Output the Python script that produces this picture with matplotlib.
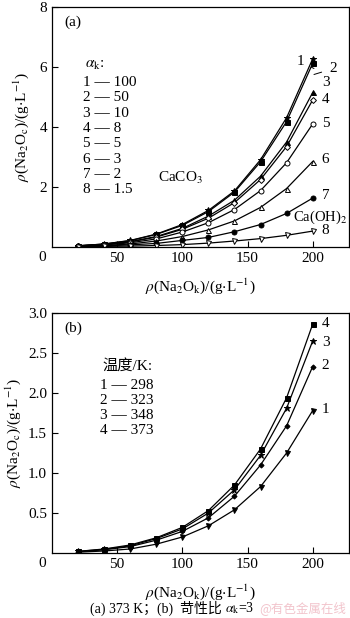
import matplotlib
matplotlib.use("Agg")
import matplotlib.pyplot as plt

plt.rcParams['font.family'] = ['Liberation Serif', 'Noto Sans CJK SC']
plt.rcParams['mathtext.fontset'] = 'stix'

x = [20, 40, 60, 80, 100, 120, 140, 160, 180, 200]

# Panel (a): 373 K, various caustic ratios
a_labels = ['1', '2', '3', '4', '5', '6', '7', '8']
a_ratios = ['100', '50', '10', '8', '5', '3', '2', '1.5']
a1 = [0.04, 0.10, 0.22, 0.43, 0.75, 1.22, 1.87, 2.91, 4.31, 6.27]
a2 = [0.04, 0.10, 0.21, 0.42, 0.72, 1.18, 1.83, 2.84, 4.18, 6.12]
a3 = [0.04, 0.09, 0.18, 0.35, 0.62, 1.03, 1.56, 2.36, 3.50, 5.15]
a4 = [0.035, 0.08, 0.17, 0.33, 0.59, 0.96, 1.48, 2.25, 3.35, 4.90]
a5 = [0.03, 0.07, 0.14, 0.27, 0.50, 0.81, 1.25, 1.88, 2.81, 4.10]
a6 = [0.03, 0.05, 0.10, 0.20, 0.35, 0.57, 0.87, 1.32, 1.95, 2.85]
a7 = [0.02, 0.04, 0.07, 0.12, 0.22, 0.32, 0.51, 0.75, 1.12, 1.63]
a8 = [0.01, 0.02, 0.03, 0.05, 0.08, 0.13, 0.20, 0.28, 0.39, 0.53]

# Panel (b): caustic ratio 3, various temperatures
b_labels = ['1', '2', '3', '4']
b_temps = ['298', '323', '348', '373']
b1 = [0.01, 0.025, 0.05, 0.11, 0.20, 0.34, 0.54, 0.83, 1.25, 1.78]
b2 = [0.015, 0.04, 0.08, 0.16, 0.27, 0.44, 0.71, 1.10, 1.59, 2.33]
b3 = [0.02, 0.045, 0.09, 0.18, 0.30, 0.50, 0.79, 1.22, 1.81, 2.65]
b4 = [0.02, 0.05, 0.10, 0.19, 0.32, 0.53, 0.85, 1.30, 1.94, 2.86]

fig = plt.figure(figsize=(3.5, 6.18), dpi=100)
axA = fig.add_axes([0.1486, 0.6003, 0.849, 0.3884])
axB = fig.add_axes([0.1486, 0.1052, 0.849, 0.3883])

lw = 0.9
ms = 3.6
a_series = [a1, a2, a3, a4, a5, a6, a7, a8]
a_styles = [('*', 'k', 5.0), ('s', 'k', ms), ('^', 'k', ms), ('D', 'w', 3.0),
            ('o', 'w', ms), ('^', 'w', ms), ('o', 'k', ms), ('v', 'w', ms)]
for s, (m, fc, size) in zip(a_series, a_styles):
    axA.plot(x, s, color='k', lw=lw, marker=m, ms=size, mfc=fc, mec='k', mew=0.7)

b_series = [b1, b2, b3, b4]
b_styles = [('v', 'k', ms), ('D', 'k', 2.6), ('*', 'k', 4.5), ('s', 'k', ms)]
for s, (m, fc, size) in zip(b_series, b_styles):
    axB.plot(x, s, color='k', lw=lw, marker=m, ms=size, mfc=fc, mec='k', mew=0.7)

fs = 11
for ax in (axA, axB):
    ax.set_xlim(0, 228)
    ax.set_xticks([50, 100, 150, 200])
    ax.tick_params(direction='in', length=4, width=0.8, labelsize=fs,
                   top=False, right=False)
    for sp in ax.spines.values():
        sp.set_linewidth(0.9)
    ax.set_xlabel(r'$\rho$(Na$_2$O$_\mathrm{k}$)/(g$\cdot$L$^{-1}$)', fontsize=fs, labelpad=8)
    ax.text(-0.02, -0.018, '0', transform=ax.transAxes, fontsize=fs,
            ha='right', va='top')

axA.set_ylim(0, 8)
axA.set_yticks([2, 4, 6, 8])
axA.set_ylabel(r'$\rho$(Na$_2$O$_\mathrm{c}$)/(g$\cdot$L$^{-1}$)', fontsize=fs, labelpad=6)

axB.set_ylim(0, 3.0)
axB.set_yticks([0.5, 1.0, 1.5, 2.0, 2.5, 3.0])
axB.set_yticklabels(['0.5', '1.0', '1.5', '2.0', '2.5', '3.0'])
axB.set_ylabel(r'$\rho$(Na$_2$O$_\mathrm{c}$)/(g$\cdot$L$^{-1}$)', fontsize=fs, labelpad=4)

# Panel labels
axA.text(0.04, 0.965, '(a)', transform=axA.transAxes, fontsize=fs, va='top')
axB.text(0.04, 0.965, '(b)', transform=axB.transAxes, fontsize=fs, va='top')

# Legend text panel (a)
axA.text(25, 6.05, r'$\alpha_\mathrm{k}$:', fontsize=fs, va='center')
for i, (lab, r) in enumerate(zip(a_labels, a_ratios)):
    axA.text(24, 5.48 - i * 0.51, lab + ' — ' + r, fontsize=fs, va='center')
axA.text(81, 2.3, r'CaCO$_3$', fontsize=fs, va='center')
axA.text(185, 1.0, r'Ca(OH)$_2$', fontsize=10.5, va='center', ha='left')

# End labels panel (a)
axA.annotate('1', xy=(201, 5.95), xytext=(191, 6.17), fontsize=fs,
             ha='center', va='center',
             arrowprops=dict(arrowstyle='-', lw=0.7, color='k', shrinkA=3, shrinkB=0))
axA.annotate('2', xy=(201, 5.75), xytext=(216, 5.95), fontsize=fs,
             ha='center', va='center',
             arrowprops=dict(arrowstyle='-', lw=0.7, color='k', shrinkA=4, shrinkB=0))
for lab, yv in zip(['3', '4', '5', '6', '7', '8'], [5.47, 4.9, 4.1, 2.93, 1.72, 0.54]):
    axA.text(207, yv, lab, fontsize=fs, va='center')

# Legend text panel (b)
axB.text(39, 2.34, '温度/K:', fontsize=fs, va='center')
for i, (lab, t) in enumerate(zip(b_labels, b_temps)):
    axB.text(37, 2.09 - i * 0.187, lab + ' — ' + t, fontsize=fs, va='center')
for lab, yv in zip(['4', '3', '2', '1'], [2.87, 2.63, 2.34, 1.79]):
    axB.text(207, yv, lab, fontsize=fs, va='center')

# Caption and watermark
cap = fig.text(0.257, 0.016, '(a) 373 K；(b)  苛性比 ', fontsize=10,
               ha='left', va='center')
fig.add_artist(plt.Annotation(r'$\alpha_\mathrm{k}$=3', xy=(1.0, 0.5), xycoords=cap,
                              fontsize=10, ha='left', va='center'))
fig.text(0.99, 0.016, '@有色金属在线', fontsize=9, ha='right', va='center',
         color='#f2c4cc', family=['Noto Sans CJK SC'])

fig.savefig('out.png', dpi=100)
